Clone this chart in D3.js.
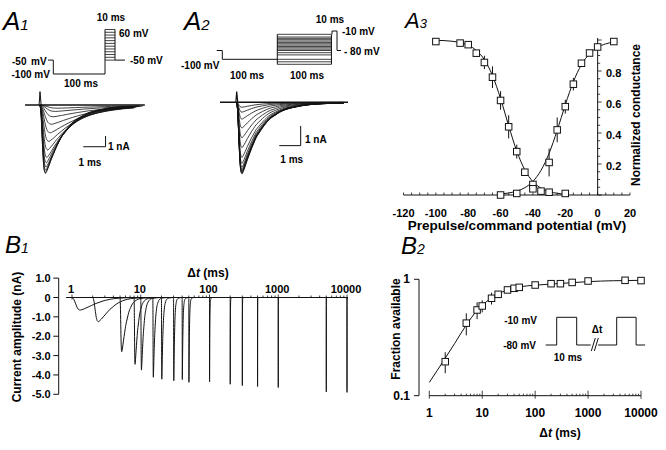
<!DOCTYPE html>
<html><head><meta charset="utf-8">
<script src="https://cdn.jsdelivr.net/npm/d3@7"></script>
<style>
html,body{margin:0;padding:0;background:#fff;}
svg{display:block;}
text{font-family:"Liberation Sans",Arial,Helvetica,sans-serif;font-weight:bold;fill:#000;}
.plabel{font-weight:normal;font-style:italic;}
</style></head><body>
<svg id="fig" width="666" height="450"></svg>
<script>
// ================= DATA =================
// Normalised Na-current waveform (time after pulse onset, ms / fraction of peak), read from A2
const naShapeTime = [0,0.05,0.1,0.15,0.2,0.25,0.3,0.4,0.5,0.6,0.7,0.8,0.9,1.0,1.2,1.4,1.6,1.8,2.0,2.3,2.6,3.0,3.5,4.0,5,6,8,10,13,16];
const naShapeFrac = [0,0.15,0.5,0.82,0.97,1.0,0.97,0.89,0.8,0.72,0.64,0.57,0.5,0.45,0.36,0.28,0.22,0.18,0.14,0.1,0.075,0.05,0.03,0.02,0.01,0.005,0.002,0,0,0];

// A1: activation protocol and currents
const a1ProtocolTime = [0,10,10,110];
const a1ProtocolV = [-50,-50,-100,-100];
const a1TestLevels = [-50,-40,-30,-20,-10,0,10,20,30,40,50,60];
const a1PeakCurrent = [-6.4,-6.3,-6.1,-5.8,-5.4,-4.9,-4.2,-3.4,-2.6,-1.8,-1.1,-0.6,-0.3];
const a1Kinetics = [1,1,1.05,1.1,1.15,1.25,1.4,1.6,1.85,2.1,2.4,2.8,3.2];

// A2: inactivation protocol and currents
const a2ProtocolTime = [0,10,10,110];
const a2ProtocolV = [-80,-80,-100,-100];
const a2PrepulseLevels = [-120,-110,-100,-90,-85,-80,-75,-70,-65,-60,-55,-50,-45,-40,-35,-30,-20];
const a2TestTime = [210,210,220,220,226];
const a2TestV = [-20,-10,-10,-80,-80];
const a2PeakCurrent = [-3.64,-3.6,-3.55,-3.5,-3.42,-3.3,-3.1,-2.8,-2.3,-1.8,-1.3,-0.85,-0.5,-0.25];

// A3: steady-state inactivation and activation
const inactV = [-100,-85,-80,-75,-70,-65,-60,-55,-50,-45,-40,-35,-30,-20];
const inactG = [0.99,0.98,0.97,0.915,0.855,0.76,0.61,0.44,0.28,0.147,0.068,0.025,0.018,0.01];
const inactErr = [0,0,0,0.01,0.043,0.07,0.06,0.075,0.045,0.02,0,0,0,0];
const actV = [-60,-50,-40,-30,-25,-20,-15,-10,-5,0,10];
const actG = [0,0.01,0.04,0.21,0.42,0.57,0.715,0.85,0.916,0.955,0.99];
const actErr = [0,0,0,0.09,0.08,0.045,0.04,0.015,0,0,0];
const inactFitV = [-100,-90,-85,-80,-75,-70,-65,-60,-55,-50,-45,-40,-35,-30,-25,-20];
const inactFitG = [0.998,0.992,0.983,0.966,0.933,0.873,0.771,0.622,0.447,0.283,0.162,0.086,0.044,0.022,0.011,0.005];
const actFitV = [-62,-55,-50,-45,-40,-35,-30,-25,-20,-15,-10,-5,0,5,10];
const actFitG = [0.005,0.013,0.025,0.047,0.088,0.159,0.269,0.417,0.582,0.731,0.841,0.911,0.953,0.975,0.987];
const a3XTicks = [-120,-100,-80,-60,-40,-20,0,20];
const a3YTicks = [0.2,0.4,0.6,0.8];

// B1: recovery-from-inactivation currents
const b1DeltaT = [1,2,5,8,10,15,20,30,40,50,100,200,300,500,1000,5000,10000];
const b1Peak = [-0.65,-1.25,-2.8,-3.45,-3.75,-4.12,-4.22,-4.3,-4.24,-4.38,-4.36,-4.48,-4.55,-4.6,-4.65,-4.88,-4.9];
const b1Kinetics = [1.3,1.7,1.2,1.1,1,1,1,1,1,1,1,1,1,1,1,1,1];
const b1XTicks = [1,10,100,1000,10000];
const b1YTicks = [1,0,-1,-2,-3,-4,-5];

// B2: fraction available
const b2DeltaT = [2,5,8,10,15,20,30,40,50,100,200,300,500,1000,5000,10000];
const b2Fraction = [0.196,0.42,0.545,0.59,0.687,0.743,0.81,0.837,0.853,0.893,0.917,0.917,0.94,0.967,0.98,0.975];
const b2Err = [0.04,0.09,0.09,0.07,0.08,0.05,0.03,0.02,0,0,0,0,0,0,0,0];
const b2FitT = [1,2,3,5,8,10,15,20,30,50,100,200,500,1000,3000,10000];
const b2FitF = [0.13,0.21,0.28,0.405,0.54,0.6,0.69,0.75,0.81,0.86,0.89,0.91,0.935,0.955,0.972,0.98];
const b2XTicks = [1,10,100,1000,10000];
const b2YTicks = [0.1,1];
const b2InsetTimeA = [0,5.5,5.5,15.5,15.5,22.5];
const b2InsetTimeB = [26.2,35.5,35.5,45.2,45.2,49.7];
const b2InsetV = [-80,-80,-10,-10,-80,-80];

// ================= DRAWING =================
const svg = d3.select("#fig");
svg.append("rect").attr("width",666).attr("height",450).attr("fill","#fff");
const ink = "#111";

function txt(x, y, s, size, anchor) {
  return svg.append("text").attr("x",x).attr("y",y).style("font-size",(size||10)+"px")
    .attr("text-anchor",anchor||"start").text(s);
}
function panelLabel(x, y, letter, sub, size) {
  const t = svg.append("text").attr("class","plabel").attr("x",x).attr("y",y)
    .style("font-size",(size||24)+"px").text(letter);
  t.append("tspan").style("font-size",Math.round((size||24)*0.58)+"px").text(sub);
}
function pathLine(pts, w) {
  return svg.append("path").attr("d",d3.line()(pts)).attr("fill","none")
    .attr("stroke",ink).attr("stroke-width",w||1);
}
function shapeTrace(peak, k, tMax) {
  return naShapeTime.map((t,i)=>[t*k, naShapeFrac[i]*peak]).filter(d=>d[0]<=tMax);
}

// ---------- A1 ----------
panelLabel(3, 30, "A", "1", 26);
{
  const px = d3.scaleLinear().domain([0,10,110,120,130]).range([48,53.3,105,115,125]);
  const pv = d3.scaleLinear().domain([-100,60]).range([74,29.5]);
  pathLine(a1ProtocolTime.map((t,i)=>[px(t),pv(a1ProtocolV[i])]));
  pathLine([[px(110),pv(-100)],[px(110),pv(60)]]);
  pathLine([[px(120),pv(60)],[px(120),pv(-50)],[px(130),pv(-50)]]);
  a1TestLevels.forEach(v=>pathLine([[px(110),pv(v)],[px(120),pv(v)]],0.8));
  txt(12,64.5,"-50",10); txt(31,64.5,"mV",10);
  txt(11.5,77.5,"-100 mV",10);
  txt(81,87,"100 ms",10,"middle");
  txt(111,21,"10 ms",10,"middle");
  txt(119,36.5,"60 mV",10);
  txt(130,64,"-50 mV",10);

  const xt = d3.scaleLinear().domain([0,1]).range([40,62.3]);
  const yi = d3.scaleLinear().domain([0,-1]).range([105,115.7]);
  const line = d3.line().x(d=>xt(d[0])).y(d=>yi(d[1])).curve(d3.curveMonotoneX);
  svg.append("path").attr("d",d3.line()([[xt(-0.67),yi(0)],[xt(4.7),yi(0)]])).attr("stroke",ink).attr("stroke-width",1.4);
  svg.append("path").attr("d",d3.line()([[xt(-0.04),yi(0)],[xt(0),yi(1.25)],[xt(0.05),yi(0)]])).attr("fill","none").attr("stroke",ink).attr("stroke-width",1);
  a1PeakCurrent.forEach((p,i)=>{
    svg.append("path").attr("d",line(shapeTrace(p,a1Kinetics[i],4.7))).attr("fill","none").attr("stroke",ink).attr("stroke-width",0.8);
  });
  pathLine([[xt(1.94),yi(-3.9)],[xt(2.94),yi(-3.9)],[xt(2.94),yi(-2.9)]]);
  txt(108,150,"1 nA",10);
  txt(90,166,"1 ms",10,"middle");
}

// ---------- A2 ----------
panelLabel(184, 30, "A", "2", 26);
{
  const px = d3.scaleLinear().domain([0,10,110,210,220,226]).range([216.7,222.3,277.3,332,337,341]);
  const pv = d3.scaleLinear().domain([-120,-100,-80,-20,-10]).range([64.3,59.3,50.5,34.3,31]);
  pathLine(a2ProtocolTime.map((t,i)=>[px(t),pv(a2ProtocolV[i])]));
  const lo = d3.min(a2PrepulseLevels), hi = d3.max(a2PrepulseLevels);
  pathLine([[px(110),pv(lo)],[px(110),pv(hi)]]);
  pathLine([[px(209),pv(lo)],[px(209),pv(hi)]]);
  a2PrepulseLevels.forEach(v=>pathLine([[px(110),pv(v)],[px(209),pv(v)]],0.8));
  pathLine(a2TestTime.map((t,i)=>[px(t),pv(a2TestV[i])]));
  txt(181,68.5,"-100 mV",10);
  txt(247,79,"100 ms",10,"middle");
  txt(307,79,"100 ms",10,"middle");
  txt(330,22.5,"10 ms",10,"middle");
  txt(342,35,"-10 mV",10);
  txt(344,55,"- 80 mV",10);

  const xt = d3.scaleLinear().domain([0,1]).range([236.7,258.1]);
  const yi = d3.scaleLinear().domain([0,-1]).range([102.3,122]);
  const line = d3.line().x(d=>xt(d[0])).y(d=>yi(d[1])).curve(d3.curveMonotoneX);
  svg.append("path").attr("d",d3.line()([[xt(-0.78),yi(0)],[xt(5.2),yi(0)]])).attr("stroke",ink).attr("stroke-width",1.4);
  svg.append("path").attr("d",d3.line()([[xt(-0.04),yi(0)],[xt(0),yi(0.54)],[xt(0.05),yi(0)]])).attr("fill","none").attr("stroke",ink).attr("stroke-width",1.2);
  a2PeakCurrent.forEach(p=>{
    svg.append("path").attr("d",line(shapeTrace(p,1,5.2))).attr("fill","none").attr("stroke",ink).attr("stroke-width",0.8);
  });
  pathLine([[xt(1.99),yi(-2.2)],[xt(2.99),yi(-2.2)],[xt(2.99),yi(-1.2)]]);
  txt(305,143,"1 nA",10);
  txt(291.7,163,"1 ms",10,"middle");
}

// ---------- A3 ----------
panelLabel(405, 28, "A", "3", 22);
{
  const x = d3.scaleLinear().domain([-120,20]).range([403.5,630]);
  const y = d3.scaleLinear().domain([0,1]).range([195,40]);
  pathLine([[x(-120),y(0)],[x(20),y(0)]]);
  d3.range(-120,21,5).forEach(v=>pathLine([[x(v),y(0)],[x(v),y(0)-2.5]],0.8));
  pathLine([[x(0),y(0)],[x(0),y(1)-2]]);
  d3.range(0,1.0001,0.05).forEach(v=>pathLine([[x(0),y(v)],[x(0)+(Math.abs(v*5-Math.round(v*5))<1e-6?4:2.5),y(v)]],0.8));
  a3XTicks.forEach(v=>txt(x(v),216.5,String(v),11,"middle"));
  a3YTicks.forEach(v=>txt(606,y(v)+6,v.toFixed(1),11));
  txt(517,230,"Prepulse/command potential (mV)",13.5,"middle");
  svg.append("text").attr("transform","translate(640,115) rotate(-90)").attr("text-anchor","middle")
    .style("font-size","12px").text("Normalized conductance");
  const fl = d3.line().x(d=>x(d[0])).y(d=>y(d[1])).curve(d3.curveMonotoneX);
  svg.append("path").attr("d",fl(inactFitV.map((v,i)=>[v,inactFitG[i]]))).attr("fill","none").attr("stroke",ink).attr("stroke-width",1);
  svg.append("path").attr("d",fl(actFitV.map((v,i)=>[v,actFitG[i]]))).attr("fill","none").attr("stroke",ink).attr("stroke-width",1);
  const pts = inactV.map((v,i)=>({v,g:inactG[i],e:inactErr[i]})).concat(actV.map((v,i)=>({v,g:actG[i],e:actErr[i]})));
  pts.filter(d=>d.e>0).forEach(d=>pathLine([[x(d.v),y(d.g-d.e)],[x(d.v),y(d.g+d.e)]],1));
  svg.selectAll(".sqA3").data(pts).enter().append("rect")
    .attr("x",d=>x(d.v)-3.25).attr("y",d=>y(d.g)-3.25).attr("width",6.5).attr("height",6.5)
    .attr("fill","#fff").attr("stroke",ink).attr("stroke-width",1);
}

// ---------- B1 ----------
panelLabel(5, 253, "B", "1", 24);
{
  const x = d3.scaleLog().domain([1,10000]).range([72,347]);
  const y = d3.scaleLinear().domain([0,-5]).range([297.5,394.3]);
  pathLine([[58.7,y(1)],[58.7,y(-5)]]);
  b1YTicks.forEach(v=>{
    pathLine([[53.3,y(v)],[58.7,y(v)]]);
    txt(50.7,y(v)+4,v===0?"0":v.toFixed(1),11,"end");
  });
  pathLine([[66,y(0)],[348,y(0)]]);
  x.ticks().forEach(t=>{
    const major = b1XTicks.includes(t);
    pathLine([[x(t),y(0)-(major?3:2)],[x(t),y(0)+(major?2:0)]],0.8);
  });
  b1XTicks.forEach(t=>txt(x(t)-1,292.5,String(t),11,"middle"));
  const dl = txt(208,277,"\u0394",12,"middle");
  dl.append("tspan").style("font-style","italic").text("t");
  dl.append("tspan").text(" (ms)");
  svg.append("text").attr("transform","translate(21,337) rotate(-90)").attr("text-anchor","middle")
    .style("font-size","12px").text("Current amplitude (nA)");
  const tl = d3.line().x(d=>d[0]).y(d=>d[1]).curve(d3.curveMonotoneX);
  b1DeltaT.forEach((dt,i)=>{
    const p = shapeTrace(b1Peak[i], b1Kinetics[i], 16).map(d=>[x(dt+d[0]), y(d[1])]);
    svg.append("path").attr("d",tl(p)).attr("fill","none").attr("stroke",ink).attr("stroke-width",1);
  });
}

// ---------- B2 ----------
panelLabel(401, 254, "B", "2", 24);
{
  const x = d3.scaleLog().domain([1,10000]).range([429.3,641]);
  const y = d3.scaleLog().domain([0.1,1]).range([395.7,279.3]);
  pathLine([[419,y(1)],[419,y(0.1)]]);
  b2YTicks.forEach(v=>{
    pathLine([[414,y(v)],[419,y(v)]]);
    txt(410,y(v)+4,String(v),12,"end");
  });
  pathLine([[x(1),y(0.1)],[x(10000),y(0.1)]]);
  x.ticks().forEach(t=>{
    const major = b2XTicks.includes(t);
    pathLine([[x(t),y(0.1)-(major?5:2)],[x(t),y(0.1)+(major?3:0)]],0.8);
  });
  b2XTicks.forEach(t=>txt(x(t),417,String(t),12,"middle"));
  const dl = txt(560,437,"\u0394",12,"middle");
  dl.append("tspan").style("font-style","italic").text("t");
  dl.append("tspan").text(" (ms)");
  svg.append("text").attr("transform","translate(400,329) rotate(-90)").attr("text-anchor","middle")
    .style("font-size","12px").text("Fraction available");
  const fl = d3.line().x(d=>x(d[0])).y(d=>y(d[1])).curve(d3.curveMonotoneX);
  svg.append("path").attr("d",fl(b2FitT.map((t,i)=>[t,b2FitF[i]]))).attr("fill","none").attr("stroke",ink).attr("stroke-width",1);
  const pts = b2DeltaT.map((t,i)=>({t,f:b2Fraction[i],e:b2Err[i]}));
  pts.filter(d=>d.e>0).forEach(d=>pathLine([[x(d.t),y(d.f-d.e)],[x(d.t),y(d.f+d.e)]],1));
  svg.selectAll(".sqB2").data(pts).enter().append("rect")
    .attr("x",d=>x(d.t)-3.25).attr("y",d=>y(d.f)-3.25).attr("width",6.5).attr("height",6.5)
    .attr("fill","#fff").attr("stroke",ink).attr("stroke-width",1);
  const ix = d3.scaleLinear().domain([0,1]).range([545.7,547.7]);
  const iv = d3.scaleLinear().domain([-80,-10]).range([345,317.3]);
  pathLine(b2InsetTimeA.map((t,i)=>[ix(t),iv(b2InsetV[i])]));
  pathLine(b2InsetTimeB.map((t,i)=>[ix(t),iv(b2InsetV[i])]));
  const bx = ix(24.3);
  pathLine([[bx-3,351],[bx+1,338]]); pathLine([[bx,351],[bx+4,338]]);
  txt(537,324,"-10 mV",10,"end");
  txt(536,349,"-80 mV",10,"end");
  txt(568,361,"10 ms",10,"middle");
  txt(597,333,"\u0394t",10,"middle");
}
</script>
</body></html>
